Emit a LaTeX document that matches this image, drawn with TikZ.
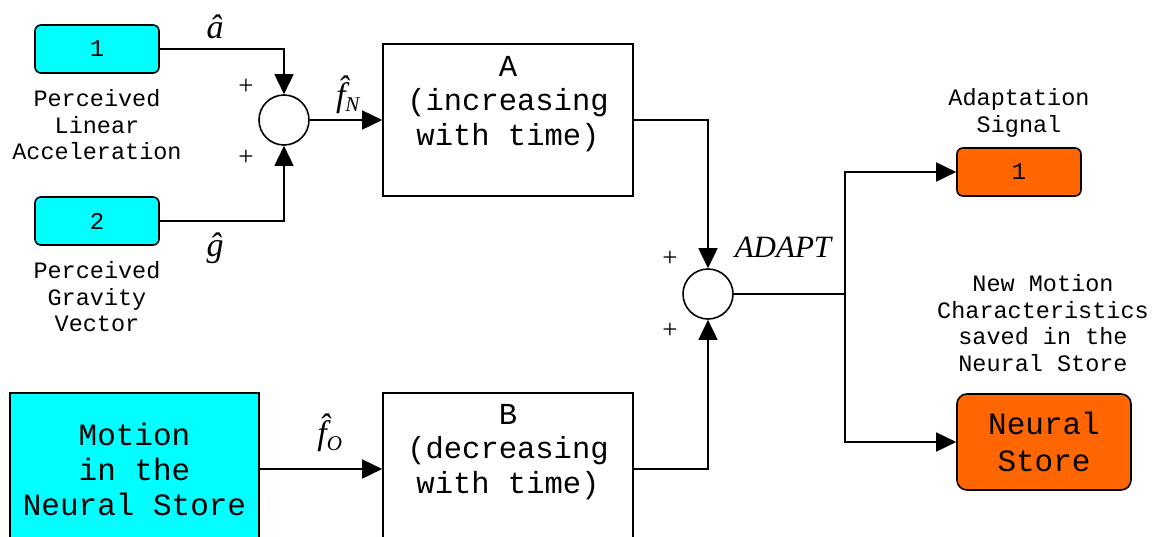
\documentclass[tikz,border=0pt]{standalone}
\usepackage{fontspec}
\setmainfont{Liberation Serif}
\setmonofont{Liberation Mono}
\usetikzlibrary{arrows.meta}

\definecolor{portcyan}{HTML}{00FFFF}
\definecolor{portorange}{HTML}{FF6600}

\tikzset{
	wire/.style = {line width = 1.6pt},
	arrow/.style = {wire, -{Triangle[length = 20pt, width = 19pt]}},
	port/.style = {draw, line width = 1.6pt, rounded corners = 6pt, inner sep = 0pt, minimum width = 124pt, minimum height = 48pt, font = \ttfamily\fontsize{24}{26}\selectfont},
	block/.style = {draw, line width = 1.6pt, inner sep = 0pt, minimum width = 250pt, minimum height = 152pt},
	sumnode/.style = {draw, circle, line width = 1.6pt, inner sep = 0pt, minimum size = 50pt},
	caption/.style = {align = center, font = \ttfamily\fontsize{23.5}{26.5}\selectfont},
	bigtext/.style = {align = center, font = \ttfamily\fontsize{31}{35}\selectfont},
	sig/.style = {font = \fontsize{34}{36}\selectfont\itshape},
	plus/.style = {font = \fontsize{27}{28}\selectfont}
}

\begin{document}
\begin{tikzpicture}[x = 1pt, y = -1pt]
			\useasboundingbox (0,0) rectangle (1160,536);
			
			% inputs
			\node [port, fill = portcyan] (in1) at (97,49) {1};
			\node [port, fill = portcyan] (in2) at (97,221) {2};
			\node [caption] (in1cap) at (97,125) {Perceived\\Linear\\Acceleration};
			\node [caption] (in2cap) at (97,297) {Perceived\\Gravity\\Vector};
			
			\node [sumnode] (sum1) at (284,120) {};
			\node [plus] (p1) at (246,87) {+};
			\node [plus] (p2) at (246,158) {+};
			
			\draw [arrow] (in1.east) -| (sum1.north);
			\draw [arrow] (in2.east) -| (sum1.south);
			\node [sig] (ahat) at (215,27) {\^a};
			\node [sig] (ghat) at (215,248) {\^g};
			
			% blocks A and B
			\node [block] (A) at (508,120) {};
			\node [bigtext, font = \ttfamily\fontsize{30.5}{34.5}\selectfont] (Atxt) at (508,104) {A\\(increasing\\with time)};
			\node [block] (B) at (508,469) {};
			\node [bigtext, font = \ttfamily\fontsize{30.5}{34.5}\selectfont] (Btxt) at (508,452) {B\\(decreasing\\with time)};
			
			\draw [arrow] (sum1.east) -- (A.west);
			\node [sig] (fN) at (348,95) {\^f\textsubscript{\fontsize{21}{22}\selectfont N}};
			
			\node [draw, line width = 1.6pt, fill = portcyan, inner sep = 0pt, minimum width = 249pt, minimum height = 152pt, bigtext] (motion) at (134.5,469) {Motion\\in the\\Neural Store};
			\draw [arrow] (motion.east) -- (B.west |- motion.east);
			\node [sig] (fO) at (330,433) {\^f\textsubscript{\fontsize{21}{22}\selectfont O}};
			
			% second sum
			\node [sumnode] (sum2) at (708,294) {};
			\node [plus] (p3) at (670,259) {+};
			\node [plus] (p4) at (670,331) {+};
			\draw [arrow] (A.east) -| (sum2.north);
			\draw [arrow] (B.east |- motion.east) -| (sum2.south);
			\node [sig, font = \fontsize{31}{34}\selectfont\itshape] (adapt) at (783,247) {ADAPT};
			
			% outputs
			\coordinate (split) at (845,294);
			\node [port, fill = portorange] (out1) at (1019,172) {1};
			\node [caption] (out1cap) at (1019,113) {Adaptation\\Signal};
			\node [port, fill = portorange, minimum width = 174pt, minimum height = 96pt, rounded corners = 10pt, font = \ttfamily\fontsize{31}{37}\selectfont, align = center] (store) at (1044,442) {Neural\\Store};
			\node [caption] (storecap) at (1043,323) {New Motion\\Characteristics\\saved in the\\Neural Store};
			
			\draw [wire] (sum2.east) -- (split);
			\draw [arrow] (split) |- (out1.west);
			\draw [arrow] (split) |- (store.west);
			
		\end{tikzpicture}
\end{document}
